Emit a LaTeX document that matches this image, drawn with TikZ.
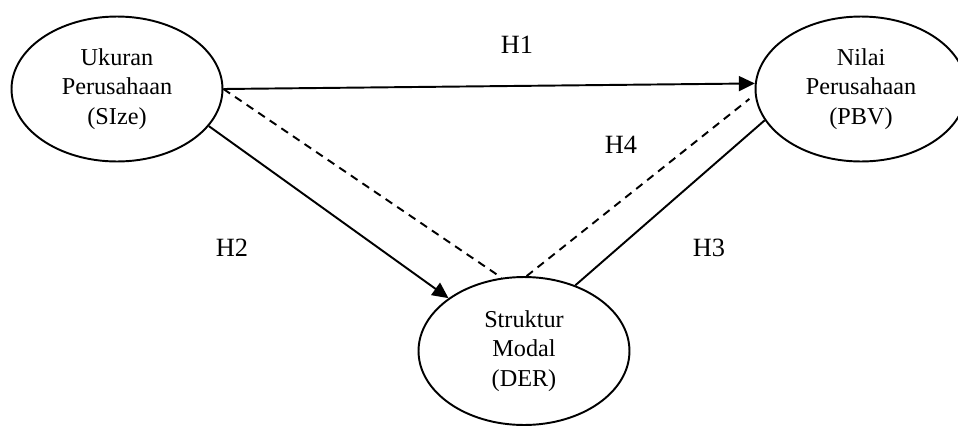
\documentclass[tikz,border=0pt]{standalone}
\usepackage{fontspec}
\setmainfont{Liberation Serif}
\usetikzlibrary{arrows.meta,shapes.geometric}

\tikzstyle{var} = [draw=black,ellipse,line width=1.1pt,minimum width=4.22cm,minimum height=2.9cm,align=center,font=\fontsize{13.8}{16.6}\selectfont,inner sep=0pt]
\tikzstyle{link} = [line width=1.1pt]
\tikzstyle{hyp} = [font=\fontsize{15}{17}\selectfont]

\begin{document}
\begin{tikzpicture}[x=0.02cm,y=-0.02cm]
	\useasboundingbox (0,0) rectangle (958,427);
	\clip (0,0) rectangle (958,427);
	% variables
	\node (size) [var] at (117,89) {Ukuran\\Perusahaan\\(SIze)};
	\node (pbv) [var] at (861,89) {Nilai\\Perusahaan\\(PBV)};
	\node (der) [var,minimum height=2.96cm] at (524,351) {Struktur\\Modal\\(DER)};
	% hypotheses
	\node (h1) [hyp] at (517,45) {H1};
	\node (h2) [hyp] at (232,248) {H2};
	\node (h3) [hyp] at (709,248) {H3};
	\node (h4) [hyp] at (621,145) {H4};
	% connections
	\draw [link,-{Triangle[length=0.32cm,width=0.3cm]}] (size.east) -- (pbv.177);
	\draw [link,-{Triangle[length=0.32cm,width=0.3cm]}] (size.-22) -- (der.145);
	\draw [link] (der.52) -- (pbv.198);
	\draw [link,dashed,dash pattern=on 0.16cm off 0.12cm] (size.east) -- (der.107);
	\draw [link,dashed,dash pattern=on 0.16cm off 0.12cm,shorten >=0.14cm] (der.88) -- (pbv.183);
\end{tikzpicture}
\end{document}
